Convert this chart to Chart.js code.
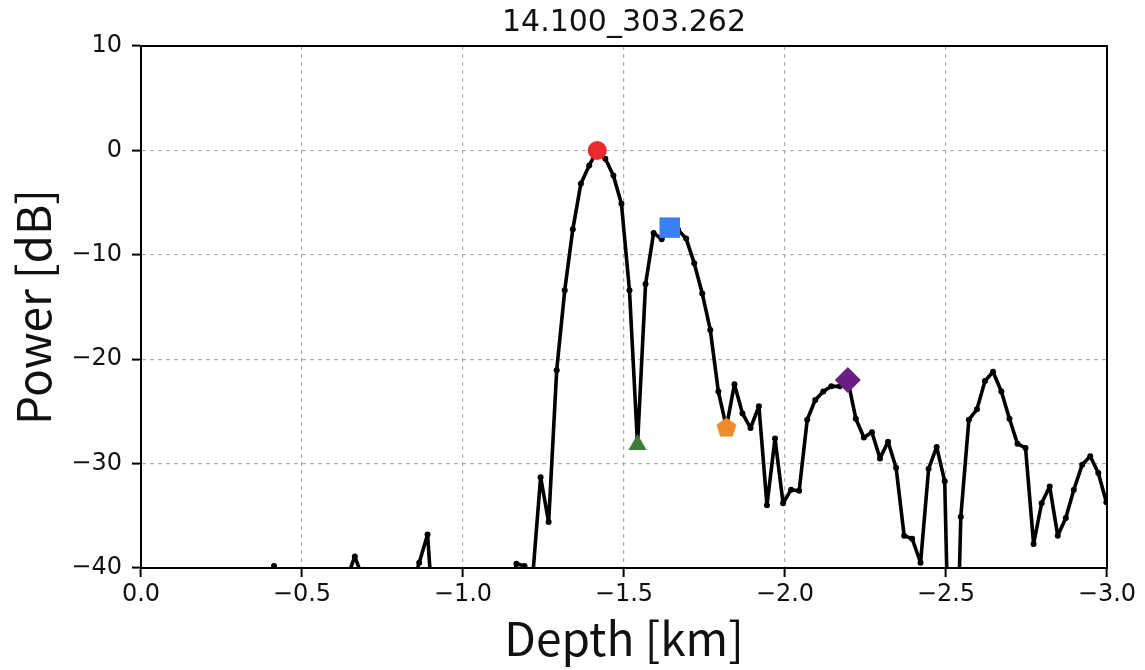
<!DOCTYPE html>
<html><head><meta charset="utf-8">
<script src="https://cdn.jsdelivr.net/npm/chart.js@4/dist/chart.umd.min.js"></script>
<style>html,body{margin:0;padding:0;background:#fff}#wrap{width:1145px;height:670px}</style>
</head><body><div id="wrap"><canvas id="c" width="1145" height="670"></canvas></div>
<script>
const chartTitle = '14.100_303.262';
const xLabel = 'Depth [km]';
const yLabel = 'Power [dB]';

const depthKm = [
 -0.011,-0.036,-0.061,-0.086,-0.111,-0.137,-0.162,-0.187,-0.212,-0.237,
 -0.262,-0.287,-0.312,-0.337,-0.362,-0.388,-0.413,-0.438,-0.463,-0.488,
 -0.513,-0.538,-0.563,-0.588,-0.613,-0.639,-0.664,-0.689,-0.714,-0.739,
 -0.764,-0.789,-0.814,-0.839,-0.864,-0.890,-0.915,-0.940,-0.965,-0.990,
 -1.015,-1.040,-1.065,-1.090,-1.115,-1.141,-1.166,-1.191,-1.216,-1.241,
 -1.266,-1.291,-1.316,-1.341,-1.366,-1.392,-1.417,-1.442,-1.467,-1.492,
 -1.517,-1.542,-1.567,-1.592,-1.617,-1.642,-1.668,-1.693,-1.718,-1.743,
 -1.768,-1.793,-1.818,-1.843,-1.868,-1.893,-1.919,-1.944,-1.969,-1.994,
 -2.019,-2.044,-2.069,-2.094,-2.119,-2.144,-2.170,-2.195,-2.220,-2.245,
 -2.270,-2.295,-2.320,-2.345,-2.370,-2.395,-2.421,-2.446,-2.471,-2.496,
 -2.521,-2.546,-2.571,-2.596,-2.621,-2.646,-2.672,-2.697,-2.722,-2.747,
 -2.772,-2.797,-2.822,-2.847,-2.872,-2.897,-2.923,-2.948,-2.973,-2.998
];
const powerDb = [
 -52,-48,-55,-50,-46,-53,-49,-58,-47,-51,
 -45,-49,-42,-47,-44,-41.5,-39.8,-44,-50,-47,
 -53,-46,-49,-44,-48,-41,-38.9,-41,-47,-52,
 -45,-49,-44,-42,-39.5,-36.8,-48,-50,-44,-53,
 -47,-51,-46,-55,-49,-43,-39.6,-39.8,-41,-31.3,
 -35.6,-21.05,-13.4,-7.56,-3.19,-1.44,0,-0.8,-2.4,-5.1,
 -13.4,-28.2,-12.8,-7.9,-8.5,-7.4,-7.6,-8.45,-10.8,-13.7,
 -17.2,-23.1,-26.5,-22.4,-25.2,-26.6,-24.5,-34.0,-27.6,-33.8,
 -32.5,-32.6,-25.8,-23.9,-23.1,-22.6,-22.6,-22.0,-25.7,-27.5,
 -27.0,-29.5,-27.9,-30.4,-36.9,-37.2,-39.5,-30.5,-28.4,-31.7,
 -65,-35.1,-25.8,-24.8,-22.1,-21.2,-23.1,-25.7,-28.1,-28.5,
 -37.7,-33.8,-32.2,-36.9,-35.2,-32.5,-30.1,-29.3,-30.9,-33.7
];

const xTicks = [0, -0.5, -1.0, -1.5, -2.0, -2.5, -3.0];
const yTicks = [10, 0, -10, -20, -30, -40];

const markerDepth = [-1.417, -1.642, -1.542, -1.818, -2.195];
const markerPower = [0, -7.4, -28.2, -26.5, -22.0];
const markerColor = ['#ec2a2c', '#3a80f2', '#3a7d3a', '#ee8a2c', '#6a1f86'];
const markerShape = ['circle', 'rect', 'triangle', 'pentagon', 'rectRot'];
const markerSize = [9.5, 14.5, 10.5, 10.5, 13];

function pentagon(color, r) {
  const c = document.createElement('canvas');
  const s = Math.ceil(r * 2 + 2);
  c.width = s; c.height = s;
  const g = c.getContext('2d');
  g.fillStyle = color;
  g.beginPath();
  for (let i = 0; i < 5; i++) {
    const a = -Math.PI / 2 + i * 2 * Math.PI / 5;
    const px = s / 2 + r * Math.cos(a), py = s / 2 + r * Math.sin(a) + r * 0.1;
    if (i === 0) g.moveTo(px, py); else g.lineTo(px, py);
  }
  g.closePath(); g.fill();
  return c;
}

const fmt = v => (Math.abs(v) < 1e-9 ? '0' : (v < 0 ? '\u2212' : '') + Math.abs(v));
const fmtX = v => (Math.abs(v) < 1e-9 ? '0.0' : (v < 0 ? '\u2212' : '') + Math.abs(v).toFixed(1));

const markerSets = markerDepth.map((d, i) => ({
  type: 'scatter',
  data: [{x: d, y: markerPower[i]}],
  pointStyle: markerShape[i] === 'pentagon' ? pentagon(markerColor[i], markerSize[i]) : markerShape[i],
  pointRadius: markerSize[i],
  pointHoverRadius: markerSize[i],
  backgroundColor: markerColor[i],
  borderColor: markerColor[i],
  borderWidth: 0,
  order: 0
}));

const lineSet = {
  type: 'line',
  data: depthKm.map((d, i) => ({x: d, y: powerDb[i]})),
  borderColor: '#000',
  borderWidth: 3.6,
  borderJoinStyle: 'round',
  borderCapStyle: 'round',
  pointRadius: 3,
  pointBackgroundColor: '#000',
  pointBorderWidth: 0,
  tension: 0,
  order: 1
};

const framePlugin = {
  id: 'frame',
  afterDatasetsDraw(chart) {
    const a = chart.chartArea, ctx = chart.ctx;
    ctx.save();
    ctx.strokeStyle = '#000';
    ctx.lineWidth = 2;
    ctx.setLineDash([]);
    ctx.strokeRect(a.left, a.top, a.right - a.left, a.bottom - a.top);
    ctx.restore();
  }
};

const tickFont = {family: 'DejaVu Sans', size: 24};
const gridOpts = {
  color: '#b0b0b0', lineWidth: 1.2,
  tickLength: 9, tickColor: '#000', tickWidth: 2, tickBorderDash: []
};
const borderOpts = {display: true, color: '#000', width: 2, dash: [4, 4]};

new Chart(document.getElementById('c'), {
  data: {datasets: [...markerSets, lineSet]},
  plugins: [framePlugin],
  options: {
    responsive: false,
    animation: false,
    devicePixelRatio: 1,
    layout: {padding: {left: 0, right: 38, top: 0, bottom: 0}},
    plugins: {
      legend: {display: false},
      tooltip: {enabled: false},
      title: {
        display: true, text: chartTitle, color: '#111', fullSize: false,
        font: {family: 'DejaVu Sans', size: 30, weight: 'normal', lineHeight: 1.2},
        padding: {top: 5, bottom: 5}
      }
    },
    scales: {
      x: {
        type: 'linear', min: -3, max: 0, reverse: true,
        afterBuildTicks: s => { s.ticks = xTicks.map(v => ({value: v})); },
        afterFit: s => { s.height = 102; },
        ticks: {color: '#111', font: tickFont, padding: 3, maxRotation: 0, callback: v => fmtX(v)},
        grid: gridOpts,
        border: borderOpts,
        title: {display: true, text: xLabel, color: '#111',
          font: {family: 'Noto Sans CJK JP', size: 46, lineHeight: 1}, padding: {top: 0, bottom: 8}}
      },
      y: {
        type: 'linear', min: -40, max: 10,
        afterBuildTicks: s => { s.ticks = yTicks.map(v => ({value: v})); },
        afterFit: s => { s.width = 141; },
        ticks: {color: '#111', font: tickFont, padding: 10, callback: v => fmt(v)},
        grid: gridOpts,
        border: borderOpts,
        title: {display: true, text: yLabel, color: '#111',
          font: {family: 'Noto Sans CJK JP', size: 46, lineHeight: 1}, padding: {top: 11, bottom: 0}}
      }
    }
  }
});
</script></body></html>
